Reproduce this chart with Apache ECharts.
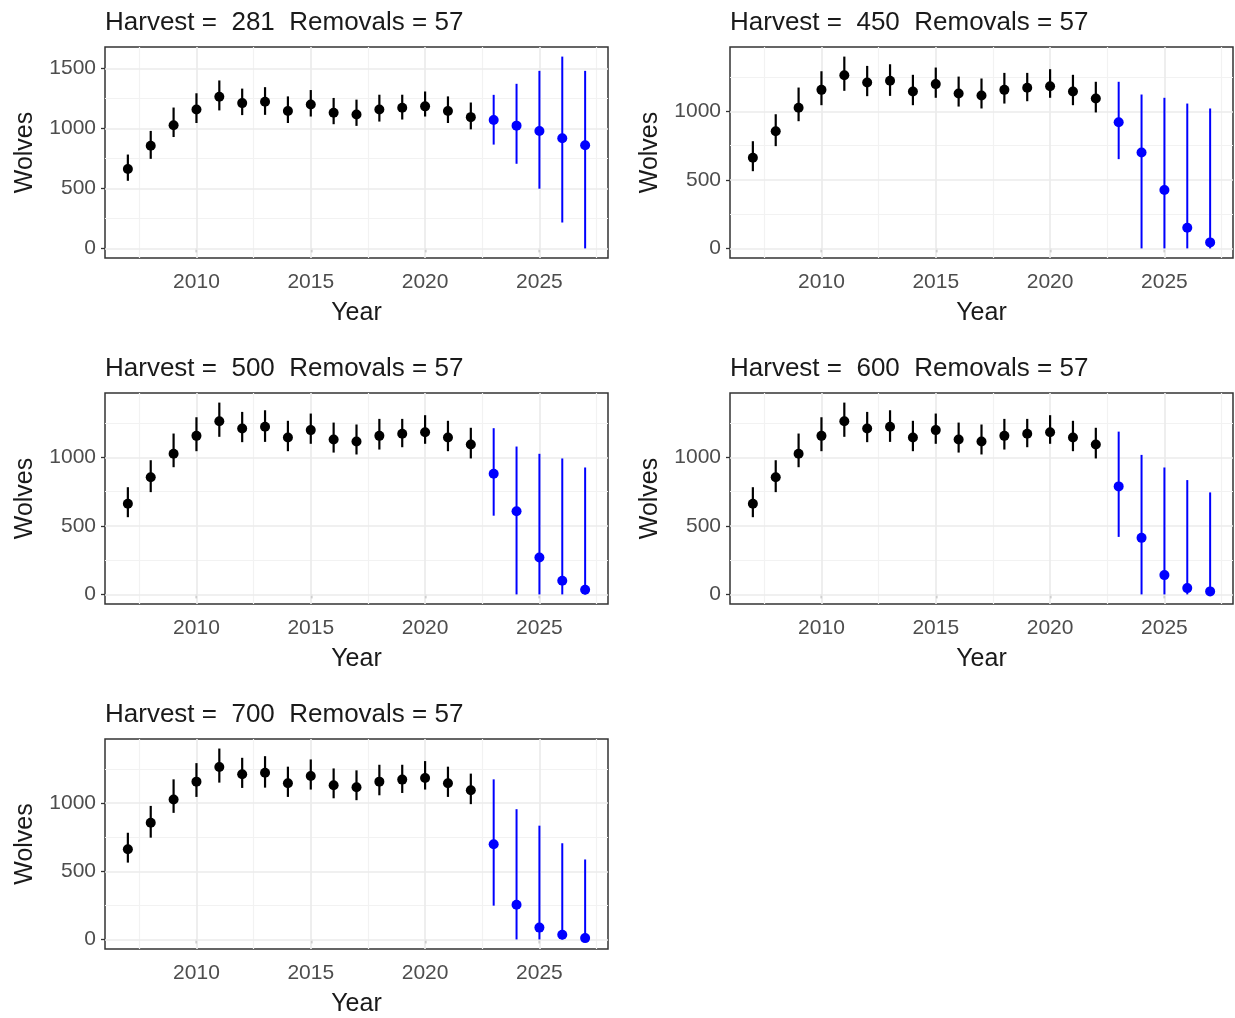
<!DOCTYPE html>
<html>
<head>
<meta charset="utf-8">
<script src="https://cdn.jsdelivr.net/npm/echarts@6/dist/echarts.min.js"></script>
<style>
html,body{margin:0;padding:0;background:#fff;}
#c{width:1235px;height:1018px;}
</style>
</head>
<body>
<div id="c"></div>
<script>
// ---- data ----
const years = [2007,2008,2009,2010,2011,2012,2013,2014,2015,2016,2017,2018,2019,2020,2021,2022];
const obsMean = [662,856,1027,1158,1265,1212,1224,1146,1200,1131,1117,1158,1173,1185,1146,1095];
const obsLo   = [564,747,929,1046,1151,1112,1114,1046,1100,1036,1022,1058,1075,1100,1046,993];
const obsHi   = [783,980,1175,1294,1401,1333,1345,1268,1321,1255,1241,1282,1282,1309,1268,1217];

const projYears = [2023,2024,2025,2026,2027];
const h281Mean = [1071,1024,980,919,861];
const h281Lo   = [866,706,498,216,0];
const h281Hi   = [1281,1373,1481,1600,1481];
const h450Mean = [922,701,426,151,44];
const h450Lo   = [652,0,0,0,0];
const h450Hi   = [1217,1124,1100,1058,1022];
const h500Mean = [881,607,269,100,34];
const h500Lo   = [575,0,0,0,0];
const h500Hi   = [1214,1080,1027,993,927];
const h600Mean = [789,413,141,46,22];
const h600Lo   = [420,0,0,0,0];
const h600Hi   = [1189,1019,927,835,745];
const h700Mean = [699,255,87,34,10];
const h700Lo   = [248,0,0,0,0];
const h700Hi   = [1175,956,835,706,587];

const harvests = [281,450,500,600,700];
const removals = 57;

const xTicks = [2010,2015,2020,2025];
const xMinor = [2007.5,2012.5,2017.5,2022.5,2027.5];
const yTicksP1 = [0,500,1000,1500];
const yTicks = [0,500,1000];
const yMinor = [250,750,1250];

// ---- layout ----
const panels = [
  {left:105, top:47,  mean:h281Mean, lo:h281Lo, hi:h281Hi, yt:yTicksP1},
  {left:730, top:47,  mean:h450Mean, lo:h450Lo, hi:h450Hi, yt:yTicks},
  {left:105, top:393, mean:h500Mean, lo:h500Lo, hi:h500Hi, yt:yTicks},
  {left:730, top:393, mean:h600Mean, lo:h600Lo, hi:h600Hi, yt:yTicks},
  {left:105, top:739, mean:h700Mean, lo:h700Lo, hi:h700Hi, yt:yTicks}
];
const PW = 503, PH = 211;
const FONT = 'Liberation Sans, Arial, sans-serif';

const grids = [], xAxes = [], yAxes = [], series = [], titles = [];

function errRender(color, width){
  return function(params, api){
    const a = api.coord([api.value(0), api.value(1)]);
    const b = api.coord([api.value(0), api.value(2)]);
    return {type:'line', shape:{x1:a[0], y1:a[1], x2:b[0], y2:b[1]},
            style:{stroke:color, lineWidth:width}};
  };
}

panels.forEach((p, i) => {
  const allLo = obsLo.concat(p.lo), allHi = obsHi.concat(p.hi);
  const lo = Math.min.apply(null, allLo), hi = Math.max.apply(null, allHi);
  const pad = (hi - lo) * 0.05;
  grids.push({left:p.left, top:p.top, width:PW, height:PH, show:true,
              borderColor:'#333333', borderWidth:1.5, backgroundColor:'#fff'});
  titles.push({text:'Harvest =  ' + harvests[i] + '  Removals = ' + removals,
               left:p.left, top:p.top - 37, padding:0,
               textStyle:{fontFamily:FONT, fontSize:26, fontWeight:'normal', color:'#1A1A1A'}});
  xAxes.push({type:'value', gridIndex:i, min:2006, max:2028,
    name:'Year', nameLocation:'middle', nameGap:43,
    nameTextStyle:{fontFamily:FONT, fontSize:25, color:'#1A1A1A'},
    axisLine:{show:false},
    axisTick:{show:true, length:4, customValues:xTicks, lineStyle:{color:'#333', width:1.3}},
    axisLabel:{customValues:xTicks, formatter:v => String(v), fontFamily:FONT, fontSize:21, color:'#4D4D4D', margin:14},
    splitLine:{show:false}});
  yAxes.push({type:'value', gridIndex:i, min:lo - pad, max:hi + pad,
    name:'Wolves', nameLocation:'middle', nameGap:67,
    nameTextStyle:{fontFamily:FONT, fontSize:25, color:'#1A1A1A'},
    axisLine:{show:false},
    axisTick:{show:true, length:4, customValues:p.yt, lineStyle:{color:'#333', width:1.3}},
    axisLabel:{customValues:p.yt, formatter:v => String(v), fontFamily:FONT, fontSize:21, color:'#4D4D4D', margin:9},
    splitLine:{show:false}});
  // gridlines
  const ml = [];
  xMinor.forEach(v => ml.push({xAxis:v, lineStyle:{color:'#F2F2F2', width:1.2, type:'solid'}}));
  yMinor.forEach(v => ml.push({yAxis:v, lineStyle:{color:'#F2F2F2', width:1.2, type:'solid'}}));
  xTicks.forEach(v => ml.push({xAxis:v, lineStyle:{color:'#EBEBEB', width:1.7, type:'solid'}}));
  p.yt.forEach(v => ml.push({yAxis:v, lineStyle:{color:'#EBEBEB', width:1.7, type:'solid'}}));
  series.push({type:'scatter', xAxisIndex:i, yAxisIndex:i, data:[], silent:true, z:1,
    markLine:{silent:true, z:1, symbol:['none','none'], label:{show:false}, animation:false, data:ml}});
  // observed error bars
  series.push({type:'custom', xAxisIndex:i, yAxisIndex:i, z:3,
    renderItem:errRender('#000', 2.2),
    data: years.map((y, k) => [y, obsLo[k], obsHi[k]])});
  series.push({type:'scatter', xAxisIndex:i, yAxisIndex:i, z:4, symbolSize:10,
    itemStyle:{color:'#000', opacity:1},
    data: years.map((y, k) => [y, obsMean[k]])});
  // projections
  series.push({type:'custom', xAxisIndex:i, yAxisIndex:i, z:3,
    renderItem:errRender('#0000FF', 2),
    data: projYears.map((y, k) => [y, p.lo[k], p.hi[k]])});
  series.push({type:'scatter', xAxisIndex:i, yAxisIndex:i, z:4, symbolSize:10,
    itemStyle:{color:'#0000FF', opacity:1},
    data: projYears.map((y, k) => [y, p.mean[k]])});
});

const chart = echarts.init(document.getElementById('c'), null, {renderer:'canvas'});
chart.setOption({
  animation:false,
  backgroundColor:'#fff',
  title:titles,
  grid:grids,
  xAxis:xAxes,
  yAxis:yAxes,
  series:series
});
</script>
</body>
</html>
